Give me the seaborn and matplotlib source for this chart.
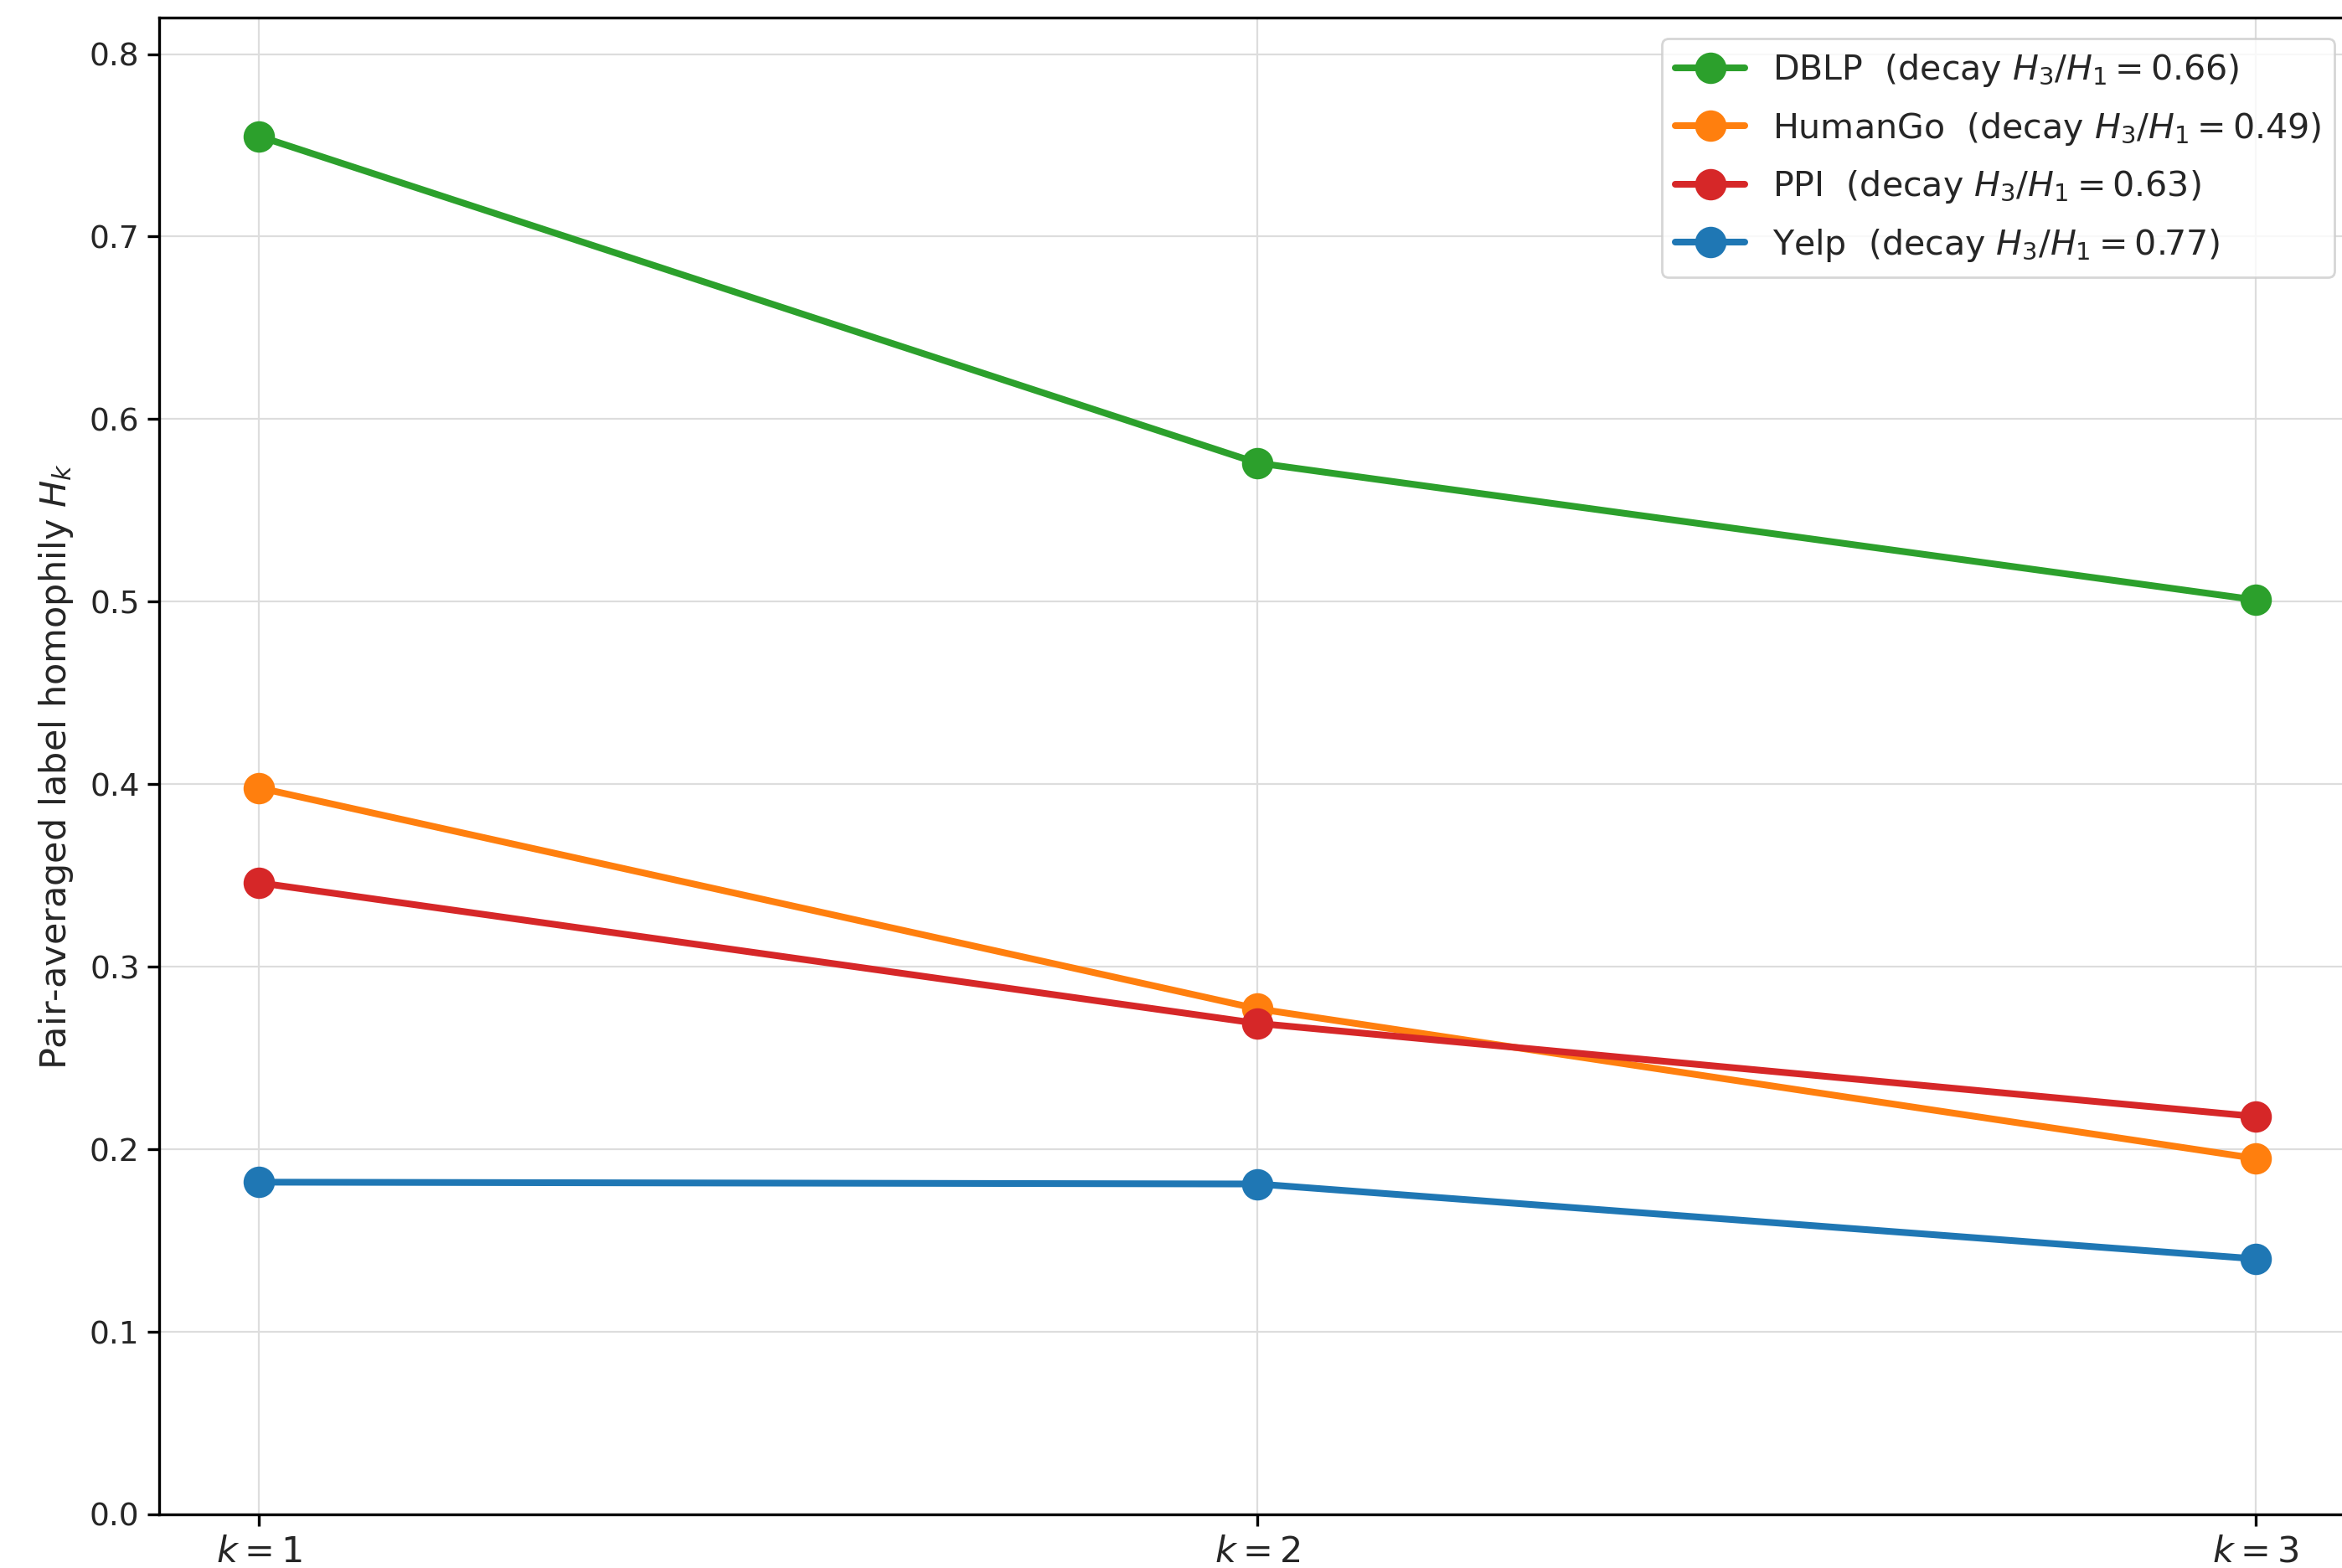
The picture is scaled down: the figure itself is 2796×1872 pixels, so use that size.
import numpy as np
import pandas as pd
import matplotlib
matplotlib.use("Agg")
import matplotlib.pyplot as plt
import seaborn as sns

# ---------------------- DATA ----------------------
hops = [1, 2, 3]
hop_labels = ["$k=1$", "$k=2$", "$k=3$"]

datasets = ["DBLP", "HumanGo", "PPI", "Yelp"]
dblp = [0.755, 0.576, 0.501]
humango = [0.398, 0.277, 0.195]
ppi = [0.346, 0.269, 0.218]
yelp = [0.182, 0.181, 0.140]
colors = ["tab:green", "tab:orange", "tab:red", "tab:blue"]

# ---------------------- PLOT ----------------------
sns.set_style("ticks")
plt.rcParams['font.family'] = ['DejaVu Sans']

fig = plt.figure(figsize=(13.98, 9.36), dpi=200)
# right edge sits just past the figure, like the cropped original
ax = fig.add_axes([0.068, 0.0342, 0.9377, 0.9546])

for name, vals, col in zip(datasets, [dblp, humango, ppi, yelp], colors):
    decay = vals[-1] / vals[0]
    df = pd.DataFrame({"k": hops, "H": vals})
    sns.lineplot(data=df, x="k", y="H", ax=ax, color=col, marker="o",
                 markersize=13.5, markeredgewidth=0, linewidth=2.9,
                 label=f"{name}  (decay $H_3/H_1={decay:.2f}$)")

ax.set_xlim(0.9, 3.1)
ax.set_ylim(0, 0.82)
ax.set_xticks(hops)
ax.set_xticklabels(hop_labels, fontsize=15.5)
ax.set_yticks(np.arange(0, 0.81, 0.1))
ax.set_yticklabels([f"{t:.1f}" for t in np.arange(0, 0.81, 0.1)], fontsize=13.5)
ax.set_xlabel("")
ax.set_ylabel("Pair-averaged label homophily $H_k$", fontsize=15.5, labelpad=6)
ax.grid(True, color="#dddddd", linewidth=0.8)
ax.set_axisbelow(True)
for s in ax.spines.values():
    s.set_linewidth(1.2)
    s.set_color("black")
ax.tick_params(axis="both", length=5, width=1.2, color="black")

ax.legend(loc="upper right", fontsize=14.8, frameon=True, labelspacing=0.62,
          borderaxespad=0.6)

fig.savefig("out.png", dpi=200)
